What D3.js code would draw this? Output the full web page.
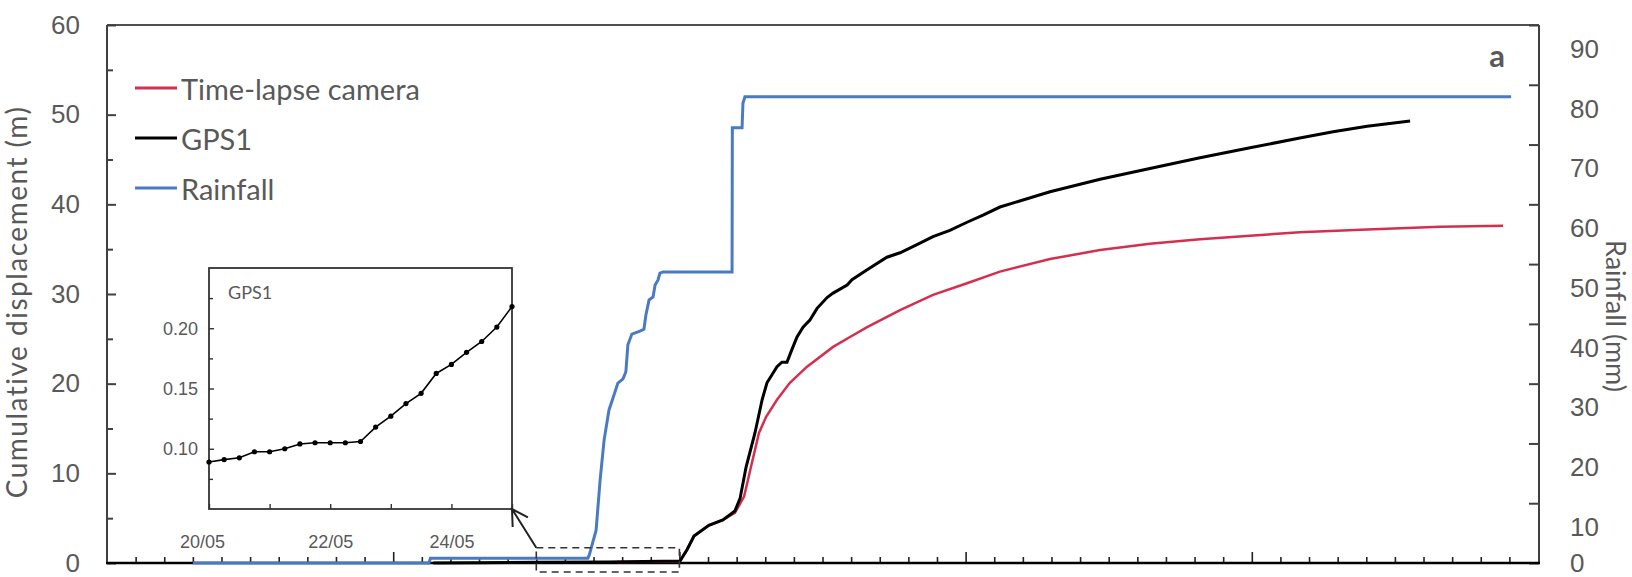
<!DOCTYPE html>
<html>
<head>
<meta charset="utf-8">
<script src="https://cdn.jsdelivr.net/npm/d3@7"></script>
<style>
  body { margin: 0; background: #fff; }
  svg { display: block; font-family: Lato, "Open Sans", sans-serif; }
</style>
</head>
<body>
<svg id="chart" width="1632" height="577"></svg>
<script>
// time axis starts 05/05, one tick per day, 50 days
const origin = new Date(2015, 4, 5);
const nDays = 50;

// rainfall (mm), cumulative, days after origin
const rainDays = [3.0, 11.25, 11.3, 16.8, 16.85, 17.09, 17.23, 17.37, 17.54, 17.68, 17.85, 18.03, 18.13, 18.2, 18.34,
  18.62, 18.76, 18.83, 18.94, 19.08, 19.15, 19.25, 19.32, 19.43, 21.84, 21.85, 22.19, 22.22, 22.29, 49.06];
const rainMm = [0, 0, 0.8, 0.8, 1.3, 5.5, 13.9, 20.6, 25.6, 27.6, 30.1, 30.8, 32.0, 36.5, 38.3,
  38.8, 39.1, 41.5, 44.0, 44.5, 46.5, 47.3, 48.5, 48.7, 48.7, 72.8, 72.8, 76.9, 78.0, 78.0];

// GPS1 cumulative displacement (m)
const gpsDays = [11.4, 13, 15, 17.5, 20.02, 20.27, 20.51, 21.03, 21.52, 21.94, 22.12, 22.33, 22.64, 22.89, 23.06, 23.41,
  23.58, 23.76, 23.93, 24.11, 24.32, 24.56, 24.81, 25.16, 25.37, 25.86, 26.03, 26.56, 27.25, 27.71, 28.30, 28.86,
  29.45, 30.05, 30.61, 31.20, 32.95, 34.70, 36.44, 38.19, 39.94, 41.68, 42.84, 44.03, 45.53];
const gpsM = [0, 0.04, 0.09, 0.106, 0.22, 1.5, 3.0, 4.2, 4.8, 5.8, 7.2, 10.7, 14.5, 18.2, 20.1, 21.9,
  22.4, 22.4, 23.8, 25.2, 26.3, 27.1, 28.4, 29.6, 30.1, 31.0, 31.6, 32.7, 34.1, 34.6, 35.5, 36.4,
  37.1, 38.0, 38.8, 39.7, 41.4, 42.8, 44.0, 45.2, 46.3, 47.4, 48.1, 48.7, 49.3];

// time-lapse camera cumulative displacement (m)
const camDays = [17.82, 19.08, 20.02, 20.27, 20.51, 21.03, 21.52, 21.94, 22.26, 22.50, 22.78, 23.03, 23.41, 23.86,
  24.46, 25.37, 25.96, 26.56, 27.71, 28.86, 30.05, 31.20, 32.95, 34.70, 36.44, 38.19, 39.94, 41.68, 44.03, 46.58, 48.78];
const camM = [0.1, 0.15, 0.2, 1.5, 3.0, 4.2, 4.8, 5.6, 7.4, 10.7, 14.5, 16.3, 18.2, 20.1,
  21.9, 24.1, 25.2, 26.3, 28.2, 29.9, 31.2, 32.5, 33.9, 34.9, 35.6, 36.1, 36.5, 36.9, 37.2, 37.5, 37.6];

// inset: GPS1 from 20/05 to 25/05, one reading every 6 h
const insetGps = [0.089, 0.091, 0.0925, 0.0975, 0.0975, 0.100, 0.104, 0.105, 0.105, 0.105, 0.106,
  0.118, 0.127, 0.1375, 0.146, 0.1625, 0.170, 0.180, 0.189, 0.201, 0.218];
const insetStart = 15;  // 20/05 in days after origin

const leftTicks = [0, 10, 20, 30, 40, 50, 60];
const rightTicks = [0, 10, 20, 30, 40, 50, 60, 70, 80, 90];
const insetYTicks = [0.10, 0.15, 0.20];
const insetXLabels = ["20/05", "22/05", "24/05"];

const grey = "#595959";
const day = d => new Date(origin.getTime() + d * 864e5);

const svg = d3.select("#chart");

const x = d3.scaleTime().domain([day(0), day(nDays)]).range([107, 1538]);
const y = d3.scaleLinear().domain([0, 60]).range([563, 25]);
const y2 = d3.scaleLinear().domain([0, 90]).range([563, 25]);

// small helper: draw an axis in its own group and colour it
function axisGroup(tx, ty, axis, stroke, width) {
  const g = svg.append("g").attr("transform", `translate(${tx},${ty})`).call(axis);
  g.selectAll(".domain").remove();
  g.selectAll("line").attr("stroke", stroke).attr("stroke-width", width);
  g.selectAll("text").attr("font-size", 26).attr("fill", grey).attr("font-family", null);
  return g;
}

// frame
svg.append("line").attr("x1", 107).attr("x2", 1539).attr("y1", 25).attr("y2", 25)
  .attr("stroke", "#505050").attr("stroke-width", 2);
svg.append("line").attr("x1", 107).attr("x2", 107).attr("y1", 25).attr("y2", 563)
  .attr("stroke", "#404040").attr("stroke-width", 2);
svg.append("line").attr("x1", 1539).attr("x2", 1539).attr("y1", 25).attr("y2", 564)
  .attr("stroke", "#404040").attr("stroke-width", 2);

// left axis: minor every 5 m, major every 10 m
axisGroup(107, 0, d3.axisLeft(y).tickValues(d3.range(5, 60, 10)).tickSize(-6).tickFormat(""), "#404040", 2);
axisGroup(107, 0, d3.axisLeft(y).tickValues(leftTicks).tickSize(-9).tickPadding(27), "#404040", 2);

// right axis (labels sit a little under their ticks, as in the figure)
axisGroup(1539, 0, d3.axisRight(y2).tickValues(rightTicks).tickSize(-10).tickPadding(31), "#404040", 2)
  .selectAll("text").attr("y", d => d > 0 ? 24 : 0);

// bottom axis, one tick per day, longer every 10 days
axisGroup(0, 563, d3.axisBottom(x).tickValues(d3.range(1, nDays).filter(d => d % 10).map(day)).tickSize(-6).tickFormat(""), "#222", 1.6);
axisGroup(0, 563, d3.axisBottom(x).tickValues(d3.range(10, nDays, 10).map(day)).tickSize(-11).tickFormat(""), "#222", 1.6);
svg.append("line").attr("x1", 106).attr("x2", 1540).attr("y1", 563).attr("y2", 563)
  .attr("stroke", "#000").attr("stroke-width", 2.5);

// axis titles
svg.append("text").attr("transform", "translate(27,302) rotate(-90)")
  .attr("text-anchor", "middle").attr("letter-spacing", 1.5)
  .attr("font-size", 28).attr("fill", grey).text("Cumulative displacement (m)");
svg.append("text").attr("transform", "translate(1606,316) rotate(90)")
  .attr("text-anchor", "middle")
  .attr("font-size", 27).attr("fill", grey).text("Rainfall (mm)");

svg.append("text").attr("x", 1497).attr("y", 67).attr("text-anchor", "middle")
  .attr("font-size", 31).attr("font-weight", "bold").attr("fill", grey).text("a");

// series
const rainLine = d3.line().x((d, i) => x(day(rainDays[i]))).y(d => y2(d));
const dispLine = days => d3.line().x((d, i) => x(day(days[i]))).y(d => y(d));

svg.append("path").datum(camM).attr("d", dispLine(camDays))
  .attr("fill", "none").attr("stroke", "#d3304f").attr("stroke-width", 2.5);
svg.append("path").datum(gpsM).attr("d", dispLine(gpsDays))
  .attr("fill", "none").attr("stroke", "#000").attr("stroke-width", 3);
svg.append("path").datum(rainMm).attr("d", rainLine)
  .attr("fill", "none").attr("stroke", "#4a7bc2").attr("stroke-width", 3);

// legend
const legend = [
  { name: "Time-lapse camera", color: "#d3304f" },
  { name: "GPS1", color: "#000" },
  { name: "Rainfall", color: "#4a7bc2" }
];
const lg = svg.append("g").selectAll("g").data(legend).join("g")
  .attr("transform", (d, i) => `translate(135,${88 + i * 50})`);
lg.append("line").attr("x1", 0).attr("x2", 42).attr("stroke", d => d.color).attr("stroke-width", 3);
lg.append("text").attr("x", 46).attr("dominant-baseline", "central")
  .attr("font-size", 29).attr("fill", grey).text(d => d.name);

// zoom box on the main chart
const box = { d0: insetStart, d1: insetStart + 5, m0: -1.0, m1: 1.7 };
svg.append("rect")
  .attr("x", x(day(box.d0))).attr("y", y(box.m1))
  .attr("width", x(day(box.d1)) - x(day(box.d0))).attr("height", y(box.m0) - y(box.m1))
  .attr("fill", "none").attr("stroke", "#333").attr("stroke-width", 1.6).attr("stroke-dasharray", "7 5");

// inset
const ix = d3.scaleTime().domain([day(insetStart), day(insetStart + 5)]).range([209, 512]);
const iy = d3.scaleLinear().domain([0.05, 0.25]).range([509, 268]);

svg.append("rect").attr("x", 209).attr("y", 268).attr("width", 303).attr("height", 241)
  .attr("fill", "#fff").attr("stroke", "#333").attr("stroke-width", 1.8);

axisGroup(209, 0, d3.axisLeft(iy).tickValues(d3.range(0.075, 0.25, 0.05)).tickSize(-4).tickFormat(""), "#333", 1.4);
axisGroup(209, 0, d3.axisLeft(iy).tickValues(insetYTicks).tickSize(-5).tickPadding(11).tickFormat(d3.format(".2f")), "#333", 1.4)
  .selectAll("text").attr("font-size", 18);

axisGroup(0, 509, d3.axisBottom(ix).tickValues(d3.range(0, 6).map(k => day(insetStart + k)))
  .tickSize(-5).tickPadding(26)
  .tickFormat((d, i) => i % 2 === 0 ? insetXLabels[i / 2] : ""), "#333", 1.4)
  .selectAll("text").attr("font-size", 18).attr("dx", (d, i) => i === 0 ? -7 : 0);

const iline = d3.line().x((d, i) => ix(day(insetStart + i * 0.25))).y(d => iy(d));
svg.append("path").datum(insetGps).attr("d", iline)
  .attr("fill", "none").attr("stroke", "#000").attr("stroke-width", 1.6);
svg.append("g").selectAll("circle").data(insetGps).join("circle")
  .attr("cx", (d, i) => ix(day(insetStart + i * 0.25))).attr("cy", d => iy(d))
  .attr("r", 2.6).attr("fill", "#000");

svg.append("text").attr("x", 228).attr("y", 299).attr("font-size", 18).attr("fill", grey).text("GPS1");

// arrow from zoom box to inset corner
const tip = [512, 509];
const tail = [x(day(box.d0)), y(box.m1)];
const ang = Math.atan2(tail[1] - tip[1], tail[0] - tip[0]);
const head = [ang - Math.PI / 6, ang + Math.PI / 6].map(a => [tip[0] + 18 * Math.cos(a), tip[1] + 18 * Math.sin(a)]);
svg.append("path")
  .attr("d", `M${tail}L${tip}M${head[0]}L${tip}L${head[1]}`)
  .attr("fill", "none").attr("stroke", "#222").attr("stroke-width", 2);
</script>
</body>
</html>
